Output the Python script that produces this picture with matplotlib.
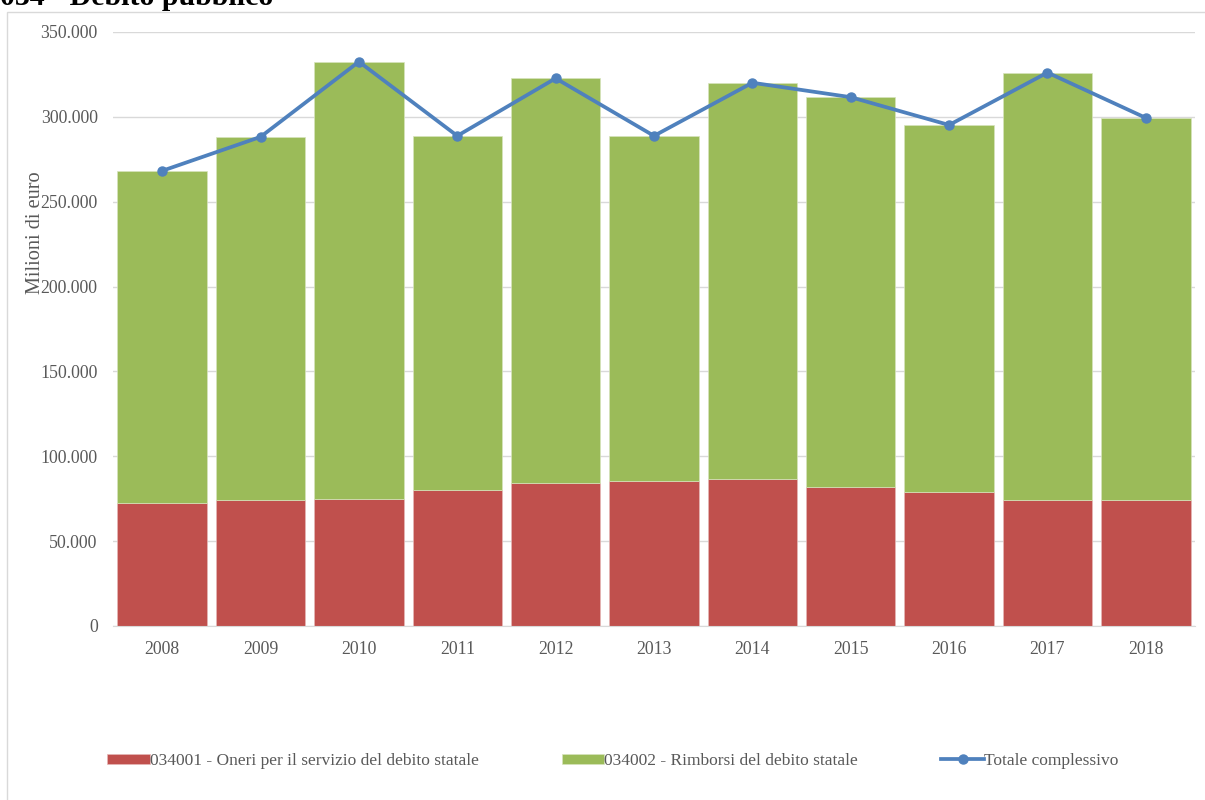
import matplotlib
matplotlib.use("Agg")
import matplotlib.pyplot as plt
from matplotlib.ticker import FuncFormatter
from matplotlib.patches import Rectangle
import numpy as np

plt.rcParams['font.family'] = ['Liberation Serif', 'DejaVu Serif']

years = ['2008', '2009', '2010', '2011', '2012', '2013', '2014', '2015', '2016', '2017', '2018']
oneri = [72300, 74100, 75000, 80100, 84500, 85300, 86800, 81900, 79100, 74100, 74100]
rimborsi = [195900, 214100, 257500, 208700, 238200, 203500, 233300, 229700, 216100, 252000, 225300]
totale = [268200, 288200, 332500, 288800, 322700, 288800, 320100, 311600, 295200, 326100, 299400]

lab_oneri = '034001 - Oneri per il servizio del debito statale'
lab_rimb = '034002 - Rimborsi del debito statale'
lab_tot = 'Totale complessivo'
title = '034 - Debito pubblico'
ylabel = 'Milioni di euro'

RED = '#C0504D'
GREEN = '#9BBB59'
BLUE = '#4F81BD'
GRID = '#D9D9D9'
TXT = '#595959'

W, H = 1205, 800
fig = plt.figure(figsize=(W / 100, H / 100), dpi=100)
ax = fig.add_axes([113 / W, 1 - 626 / H, (1195 - 113) / W, (626 - 32) / H])

x = np.arange(len(years))
b1 = ax.bar(x, oneri, width=0.91, color=RED, edgecolor='#E6B8B7', linewidth=0.5, label=lab_oneri, zorder=2)
b2 = ax.bar(x, rimborsi, width=0.91, bottom=oneri, color=GREEN, edgecolor='#D7E4BD', linewidth=0.5, label=lab_rimb, zorder=2)
ln, = ax.plot(x, totale, color=BLUE, lw=2.7, marker='o', markersize=6.5, label=lab_tot, zorder=3)

ax.set_xlim(-0.5, len(years) - 0.5)
ax.set_ylim(0, 350000)
ax.set_yticks(np.arange(0, 350001, 50000))
ax.yaxis.set_major_formatter(FuncFormatter(lambda v, p: f"{int(v):,}".replace(',', '.')))
ax.set_xticks(x)
ax.set_xticklabels(years)
ax.grid(axis='y', color=GRID, lw=1, zorder=0)
ax.set_axisbelow(True)
for s in ['top', 'right', 'left']:
    ax.spines[s].set_visible(False)
ax.spines['bottom'].set_color(GRID)
ax.tick_params(axis='both', length=0, labelsize=12.8, colors=TXT)
ax.tick_params(axis='x', pad=11)
ax.tick_params(axis='y', pad=11)

fig.text(35 / W, 1 - 233 / H, ylabel, rotation=90, ha='center', va='center', fontsize=14.6, color=TXT)
fig.text(0, 1 - 5 / H, title, ha='left', va='baseline', fontsize=21.5, fontweight='bold', color='black')

fig.patches.append(Rectangle((7 / W, -0.01), 1.0, 1 - 12 / H + 0.01, transform=fig.transFigure,
                             fill=False, edgecolor=GRID, lw=1))

leg = fig.legend([b1, b2, ln], [lab_oneri, lab_rimb, lab_tot], loc='center left',
                 bbox_to_anchor=(107 / W, 1 - 761 / H), ncol=3, frameon=False,
                 fontsize=12.5, handlelength=2.45, handleheight=0.5, handletextpad=0.0, columnspacing=4.8,
                 borderpad=0, borderaxespad=0)
for t in leg.get_texts():
    t.set_color(TXT)

fig.savefig('out.png', dpi=100)
